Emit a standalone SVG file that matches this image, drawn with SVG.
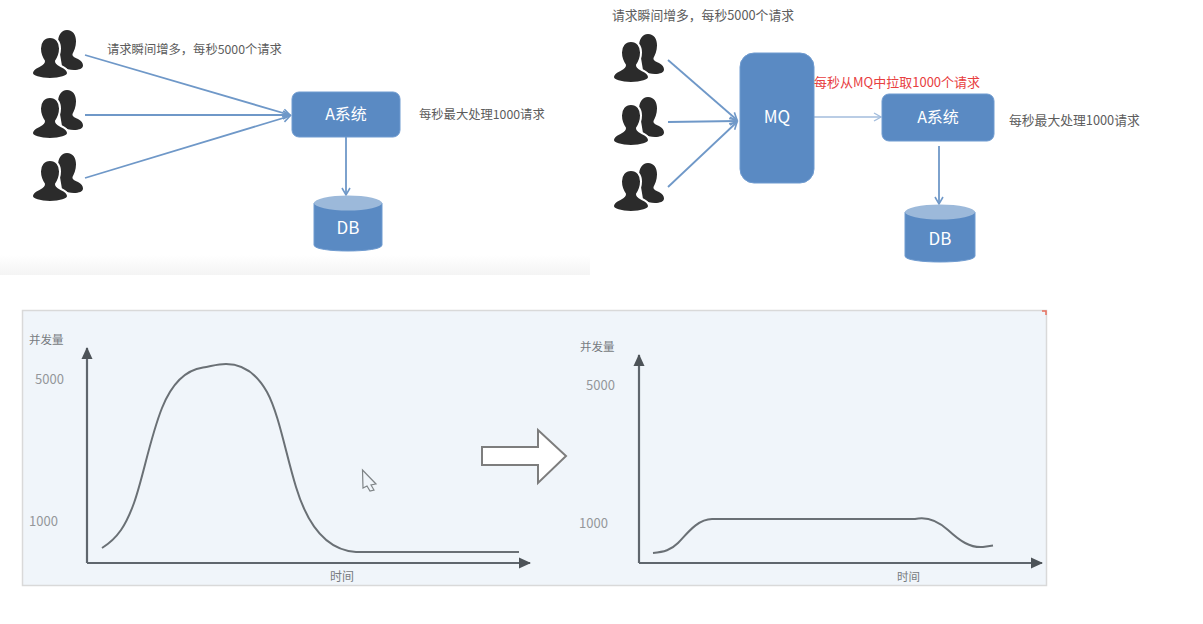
<svg xmlns="http://www.w3.org/2000/svg" width="1203" height="624" viewBox="0 0 1203 624">
<style>
text{font-family:"Noto Sans CJK SC","Liberation Sans",sans-serif}
.box{fill:#5a8ac3;stroke:#6f9bd0;stroke-width:1}
.lbl{fill:#fff;text-anchor:middle}
.note{fill:#5c5c5c}
.con{fill:none;stroke:#6f98c8;stroke-width:1.8}
.light{stroke:#a3bddd;stroke-width:1.5}
.axis{fill:none;stroke:#5f666d;stroke-width:2.2}
.curve{fill:none;stroke:#6a7075;stroke-width:2}
.tick{fill:#94979a}
.ax{fill:#777b80}
.dbtop{fill:#9cb9da}
.person{fill:#2b2b2b}
</style>
<defs>
<linearGradient id="fade" x1="0" y1="0" x2="0" y2="1"><stop offset="0" stop-color="#fff"/><stop offset="1" stop-color="#f4f4f4"/></linearGradient>
<marker id="ah" markerWidth="10" markerHeight="10" refX="8" refY="5" orient="auto" markerUnits="userSpaceOnUse"><path d="M1 1L8 5L1 9" fill="none" stroke="#6f98c8" stroke-width="1.6"/></marker>
<marker id="ahl" markerWidth="10" markerHeight="10" refX="8" refY="5" orient="auto" markerUnits="userSpaceOnUse"><path d="M1 1L8 5L1 9" fill="none" stroke="#a3bddd" stroke-width="1.4"/></marker>
<marker id="ahs" markerWidth="14" markerHeight="12" refX="11" refY="6" orient="auto" markerUnits="userSpaceOnUse"><path d="M0 0.5L12 6L0 11.5Z" fill="#4d5358"/></marker>
<g id="people">
<path class="person" d="M35 0C41 0 44 5 44 11.500C44 17 42 21 40.500 24C40 26.500 43 27.500 46 29C49.500 31 51 33 51 35.500C51 38.500 47 40 42 40C38 40 34 39 30 36L26 12C26 6 29 0 35 0Z"/>
<path class="person" stroke="#fff" stroke-width="2" d="M18 7C24.500 7 28 12 28 18.500C28 24 26 28 24 31C23.500 34 27 35 30 36.500C34 38.500 36 40.500 36 43C36 46.500 28 49 18 49C8 49 0 46.500 0 43C0 40.500 2 38.500 6 36.500C9 35 12.500 34 12 31C10 28 8 24 8 18.500C8 12 11.500 7 18 7Z"/>
</g>
</defs>
<rect width="1203" height="624" fill="#fff"/>
<rect x="0" y="255" width="590" height="20" fill="url(#fade)"/>

<g id="connectors">
<path class="con" marker-end="url(#ah)" d="M85 55L290 115"/>
<path class="con" marker-end="url(#ah)" d="M85 115L290 115"/>
<path class="con" marker-end="url(#ah)" d="M85 178L290 116"/>
<path class="con" marker-end="url(#ah)" d="M346 137L346 195"/>
<path class="con" marker-end="url(#ah)" d="M668 60L737 120"/>
<path class="con" marker-end="url(#ah)" d="M668 122L737 121"/>
<path class="con" marker-end="url(#ah)" d="M668 187L737 122"/>
<path class="con light" marker-end="url(#ahl)" d="M814 117L881 117"/>
<path class="con" marker-end="url(#ah)" d="M939 146L939 204"/>
</g>

<use id="users-l1" href="#people" x="32" y="30"/>
<use id="users-l2" href="#people" x="32" y="90"/>
<use id="users-l3" href="#people" x="32" y="153"/>
<use id="users-r1" href="#people" x="613" y="34"/>
<use id="users-r2" href="#people" x="613" y="97"/>
<use id="users-r3" href="#people" x="613" y="163"/>

<g id="sys-a-left"><rect class="box" x="292" y="92" width="108" height="45" rx="7"/><text class="lbl" x="346" y="120" font-size="16">A系统</text></g>
<g id="db-left"><path class="box" d="M314 203V245C314 253 382 253 382 245V203Z"/><ellipse class="dbtop" cx="348" cy="203" rx="34" ry="7.500"/><text class="lbl" x="348" y="234" font-size="17">DB</text></g>
<g id="mq"><rect class="box" x="740" y="53" width="74" height="130" rx="14"/><text class="lbl" x="777" y="123" font-size="17">MQ</text></g>
<g id="sys-a-right"><rect class="box" x="882" y="94" width="112" height="47" rx="7"/><text class="lbl" x="938" y="123" font-size="16">A系统</text></g>
<g id="db-right"><path class="box" d="M905 212V256C905 264 975 264 975 256V212Z"/><ellipse class="dbtop" cx="940" cy="212" rx="35" ry="7.500"/><text class="lbl" x="940" y="245" font-size="17">DB</text></g>

<g id="notes">
<text class="note" x="107" y="54" font-size="12.300">请求瞬间增多，每秒5000个请求</text>
<text class="note" x="419" y="119" font-size="12.300">每秒最大处理1000请求</text>
<text class="note" x="612" y="20" font-size="12.800">请求瞬间增多，每秒5000个请求</text>
<text x="814" y="87" font-size="13" fill="#e8403f">每秒从MQ中拉取1000个请求</text>
<text class="note" x="1009" y="125" font-size="12.800">每秒最大处理1000请求</text>
</g>

<g id="chart-panel">
<rect x="22.500" y="310.500" width="1024" height="275" fill="#f0f5fa" stroke="#d9d9d9" stroke-width="1.500"/>
<path d="M1042 311L1046 311L1046 315" fill="none" stroke="#e8705f" stroke-width="1.500"/>
</g>

<g id="chart-left">
<path class="axis" marker-end="url(#ahs)" d="M87 563L87 348"/>
<path class="axis" marker-end="url(#ahs)" d="M87 563L530 563"/>
<path class="curve" d="M102 548C118 538 126 525 134 503C143 478 150 438 162 408C172 383 186 370 203 367.500C212 366 218 364 226 364C245 364 258 376 267 392C279 414 286 455 296 487C306 520 324 550 356 552L519 552"/>
<text class="ax" x="29" y="344" font-size="11.500">并发量</text>
<text class="tick" x="35" y="384" font-size="13">5000</text>
<text class="tick" x="29" y="526" font-size="13">1000</text>
<text class="ax" x="330" y="581" font-size="12">时间</text>
</g>

<g id="big-arrow"><path d="M482 447H538V430L566 456L538 483V465H482Z" fill="#fff" stroke="#7d7d7d" stroke-width="2"/></g>

<g id="cursor"><path d="M362.500 470L376 484L371 485L374 490L370 491L367 486L363 488Z" fill="#f0f5fa" stroke="#7f8487" stroke-width="1.200"/></g>

<g id="chart-right">
<path class="axis" marker-end="url(#ahs)" d="M639 563L639 355"/>
<path class="axis" marker-end="url(#ahs)" d="M639 563L1042 563"/>
<path class="curve" d="M653 553C664 552 671 550 678 543C686 535 697 519 712 519L915 519C928 516 938 521 948 530C960 541 970 548 983 547L993 545.500"/>
<text class="ax" x="580" y="351" font-size="11.500">并发量</text>
<text class="tick" x="586" y="389.500" font-size="13">5000</text>
<text class="tick" x="579" y="527.500" font-size="13">1000</text>
<text class="ax" x="897" y="581" font-size="11.500">时间</text>
</g>
</svg>
